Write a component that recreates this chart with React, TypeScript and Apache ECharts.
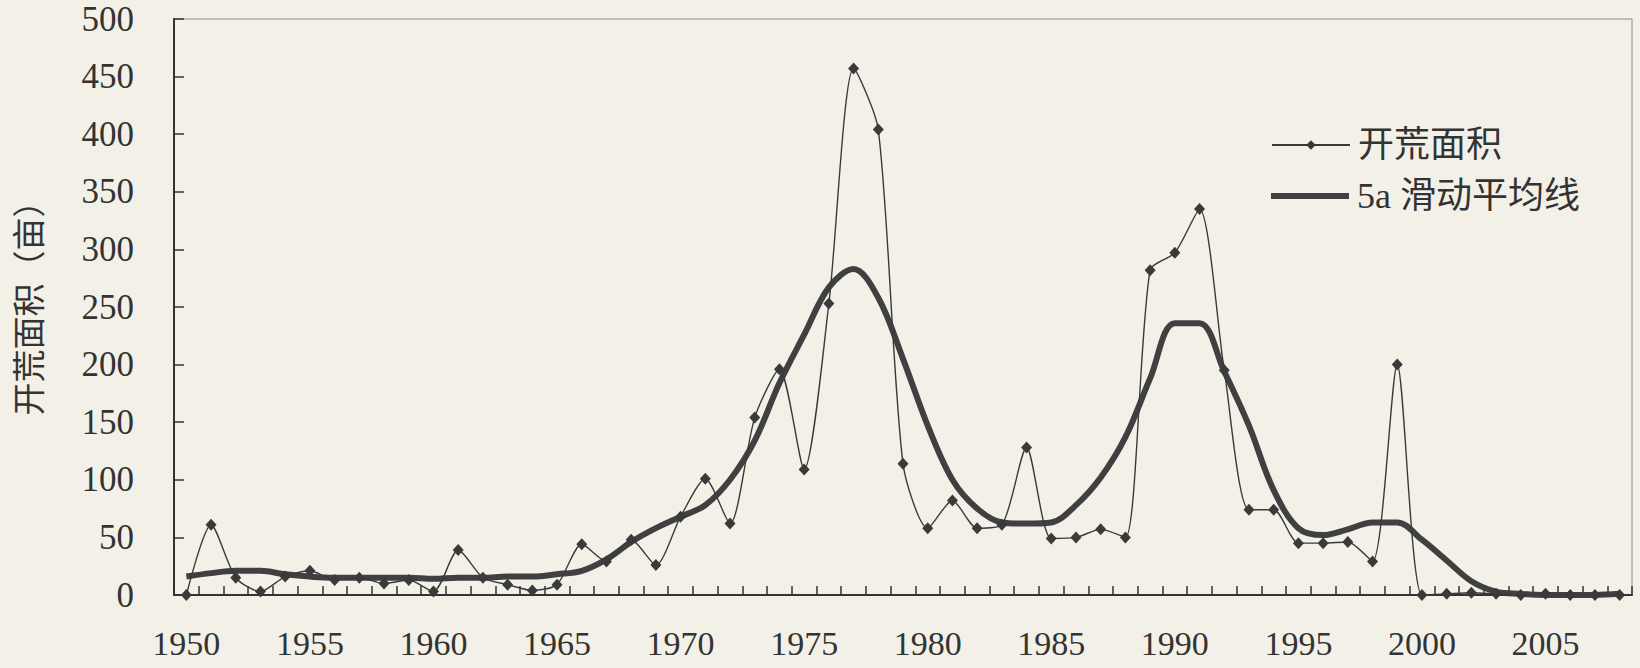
import React, { useEffect, useRef } from "react";
import * as echarts from "echarts";

const years: string[] = [
  "1950","1951","1952","1953","1954","1955","1956","1957","1958","1959",
  "1960","1961","1962","1963","1964","1965","1966","1967","1968","1969",
  "1970","1971","1972","1973","1974","1975","1976","1977","1978","1979",
  "1980","1981","1982","1983","1984","1985","1986","1987","1988","1989",
  "1990","1991","1992","1993","1994","1995","1996","1997","1998","1999",
  "2000","2001","2002","2003","2004","2005","2006","2007","2008",
];

const reclaimedArea: number[] = [
  0, 61, 15, 3, 16, 21, 13, 15, 10, 13,
  3, 39, 15, 9, 4, 9, 44, 29, 48, 26,
  68, 101, 62, 154, 196, 109, 253, 457, 404, 114,
  58, 82, 58, 61, 128, 49, 50, 57, 50, 282,
  297, 335, 195, 74, 74, 45, 45, 46, 29, 200,
  0, 1, 2, 1, 0, 1, 0, 0, 0,
];

const movingAverage: number[] = [
  16, 19, 21, 21, 18, 16, 15, 15, 15, 15,
  14, 15, 15, 16, 16, 18, 21, 31, 46, 58,
  68, 78, 100, 134, 184, 226, 267, 283, 258, 205,
  147, 100, 75, 63, 62, 63, 78, 102, 137, 188,
  236, 236, 194, 147, 91, 58, 52, 57, 63, 63,
  48, 30, 12, 3, 1, 0, 0, 0, 1,
];

const seriesNames: string[] = ["开荒面积", "5a 滑动平均线"];
const yAxisTitle = "开荒面积（亩）";

const BG = "#f3f1e7";
const INK = "#333333";
const SERIF = "'Liberation Serif', 'Noto Sans CJK SC', serif";

export default function App() {
  const ref = useRef<HTMLDivElement>(null);

  useEffect(() => {
    document.body.style.margin = "0";
    document.body.style.background = BG;
    if (!ref.current) return;
    const chart = echarts.init(ref.current, undefined, { renderer: "svg" });
    const legendText = {
      fontFamily: SERIF,
      fontSize: 36,
      color: INK,
      padding: [0, 0, 0, 3],
    };
    chart.setOption({
      animation: false,
      backgroundColor: BG,
      grid: {
        left: 174,
        right: 8,
        top: 19,
        bottom: 73,
        show: true,
        borderColor: "#8a8a8a",
        borderWidth: 1,
        backgroundColor: "transparent",
      },
      graphic: [
        {
          type: "text",
          x: 27,
          y: 300,
          rotation: Math.PI / 2,
          style: {
            text: yAxisTitle,
            fontFamily: "'Noto Sans CJK SC', sans-serif",
            fontSize: 33,
            fill: INK,
            align: "center",
            verticalAlign: "middle",
          },
        },
      ],
      legend: [
        {
          padding: 0,
          left: 1271,
          top: 127,
          itemWidth: 78,
          itemHeight: 12,
          data: [seriesNames[0]],
          textStyle: legendText,
        },
        {
          padding: 0,
          left: 1271,
          top: 178,
          itemWidth: 78,
          itemHeight: 6,
          data: [{ name: seriesNames[1], icon: "rect" }],
          itemStyle: { color: "#404040" },
          textStyle: legendText,
        },
      ],
      xAxis: {
        type: "category",
        data: years,
        boundaryGap: true,
        axisLine: { show: true, lineStyle: { color: INK, width: 2 } },
        axisTick: {
          show: true,
          inside: true,
          length: 9,
          interval: 0,
          lineStyle: { color: INK, width: 1.5 },
        },
        axisLabel: {
          interval: 4,
          margin: 31,
          fontFamily: SERIF,
          fontSize: 34,
          color: INK,
        },
        splitLine: { show: false },
      },
      yAxis: {
        type: "value",
        min: 0,
        max: 500,
        interval: 50,
        axisLine: { show: true, lineStyle: { color: INK, width: 2 } },
        axisTick: {
          show: true,
          inside: true,
          length: 10,
          lineStyle: { color: INK, width: 1.5 },
        },
        axisLabel: {
          margin: 40,
          fontFamily: SERIF,
          fontSize: 35,
          color: INK,
        },
        splitLine: { show: false },
      },
      series: [
        {
          name: seriesNames[0],
          type: "line",
          data: reclaimedArea,
          smooth: 0.25,
          symbol: "diamond",
          symbolSize: [11, 12],
          showSymbol: true,
          lineStyle: { color: "#3a3a3a", width: 1.4 },
          itemStyle: { color: "#3a3a3a" },
          z: 3,
        },
        {
          name: seriesNames[1],
          type: "line",
          data: movingAverage,
          smooth: 0.35,
          symbol: "none",
          showSymbol: false,
          lineStyle: { color: "#404040", width: 6 },
          itemStyle: { color: "#404040" },
          z: 2,
        },
      ],
    });
    return () => chart.dispose();
  }, []);

  return <div ref={ref} style={{ width: 1640, height: 668 }} />;
}
